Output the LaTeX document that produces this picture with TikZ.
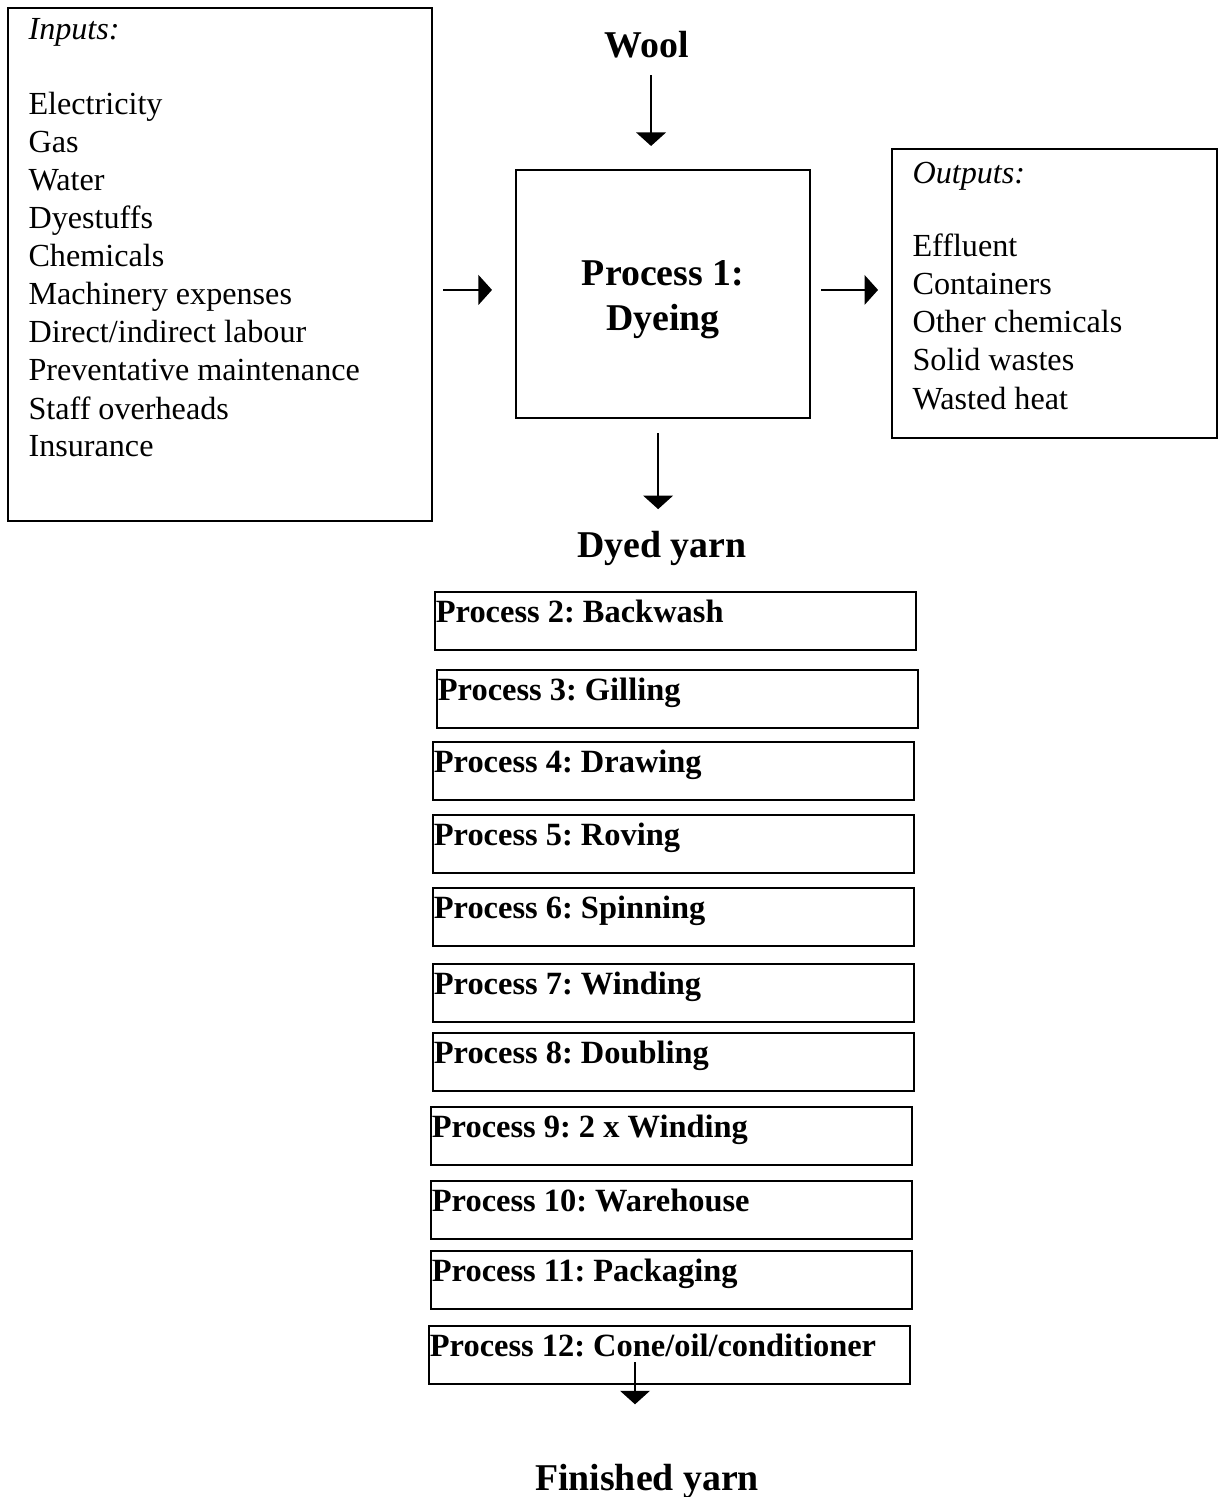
\documentclass[tikz,border=0pt]{standalone}
\usepackage{fontspec}
\setmainfont{Liberation Serif}
\usetikzlibrary{arrows.meta}
\frenchspacing

\tikzset{
  box/.style={draw,line width=0.75pt,inner sep=0pt},
  pbox/.style={box,anchor=north west,minimum width=178pt,minimum height=21.5pt},
  ptext/.style={anchor=base west,inner sep=0pt,font=\fontsize{12}{14}\selectfont\bfseries},
  item/.style={anchor=base west,inner sep=0pt,font=\fontsize{11.9}{14}\selectfont},
  head/.style={anchor=base,inner sep=0pt,font=\fontsize{14}{16.6}\selectfont\bfseries},
  arr/.style={line width=0.5pt,-{Triangle[length=5pt,width=11pt]}}
}

\begin{document}
\begin{tikzpicture}[x=0.37pt,y=-0.37pt]
  \useasboundingbox (0,0) rectangle (1218,1497);

  % Inputs
  \node[box,anchor=north west,minimum width=156.9pt,minimum height=189.8pt] (inbox) at (7,7) {};
  \node[item] (intitle) at (28,40) {\itshape Inputs:};
  \foreach \t [count=\i] in {Electricity,Gas,Water,Dyestuffs,Chemicals,Machinery expenses,
      Direct/indirect labour,Preventative maintenance,Staff overheads,Insurance}
    \node[item] (in\i) at (28,{77+38*\i}) {\t};

  % Dyeing
  \node[head] (wool) at (647,58) {Wool};
  \node[box,minimum width=108.8pt,minimum height=91.8pt] (p1) at (663,294) {};
  \node[align=center,inner sep=0pt,font=\fontsize{14}{16.6}\selectfont\bfseries] (p1t) at (663,300) {Process 1:\\Dyeing};
  \node[head] (dyed) at (662,557) {Dyed yarn};

  % Outputs
  \node[box,anchor=north west,minimum width=120.25pt,minimum height=106.9pt] (outbox) at (891,148) {};
  \node[item] (outtitle) at (912,184) {\itshape Outputs:};
  \foreach \t [count=\i] in {Effluent,Containers,Other chemicals,Solid wastes,Wasted heat}
    \node[item] (out\i) at (912,{219+38*\i}) {\t};

  \draw[arr,shorten <=5.9pt,shorten >=8.5pt] ([xshift=1.5pt]wool.south) -- ([xshift=1.5pt]wool.south |- p1.north);
  \draw[arr,shorten <=3.7pt,shorten >=8.5pt] ([yshift=1.5pt]inbox.east |- p1.west) -- ([yshift=1.5pt]p1.west);
  \draw[arr,shorten <=3.7pt,shorten >=4.8pt] ([yshift=1.5pt]p1.east) -- ([yshift=1.5pt]outbox.west |- p1.east);
  \draw[arr,shorten <=5.2pt,shorten >=7.8pt] ([xshift=-1.8pt]p1.south) -- ([xshift=-1.8pt]p1.south |- dyed.north);

  % Processes 2-12
  \foreach \n/\x/\y/\lab in {2/434/591/Backwash,3/436/669/Gilling,4/432/741/Drawing,
      5/432/814/Roving,6/432/887/Spinning,7/432/963/Winding,8/432/1032/Doubling,
      9/430/1106/2 x Winding,10/430/1180/Warehouse,11/430/1250/Packaging,
      12/428/1325/{Cone/oil/conditioner}} {
    \node[pbox] (p\n) at (\x,\y) {};
    \node[ptext] (t\n) at ([xshift=0.5pt,yshift=-11.7pt]p\n.north west) {Process \n: \lab};
  }

  \node[head] (fin) at (647,1490) {Finished yarn};
  \coordinate (c12) at (635,1362);
  \draw[arr,shorten >=21.8pt] (c12) -- (c12 |- fin.north);
\end{tikzpicture}
\end{document}
